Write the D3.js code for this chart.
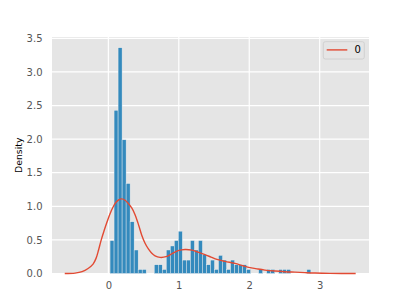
<!DOCTYPE html>
<html>
<head>
<meta charset="utf-8">
<script src="https://cdn.jsdelivr.net/npm/d3@7"></script>
<style>
  html, body { margin: 0; padding: 0; background: #fff; }
  svg { display: block; font-family: "DejaVu Sans", sans-serif; }
</style>
</head>
<body>
<svg id="chart" width="411" height="308"></svg>
<script>
// ---- data ----
const binStart = 0.024;
const binWidth = 0.05702;
const binDensity = [
  0.49, 2.43, 3.36, 1.99, 1.34, 0.77, 0.35, 0.06, 0.06, 0,
  0, 0.13, 0.13, 0.06, 0.35, 0.41, 0.49, 0.63, 0.20, 0.20,
  0.49, 0.35, 0.49, 0.28, 0.13, 0.20, 0.06, 0.27, 0.20, 0.06,
  0.20, 0.13, 0.13, 0.13, 0.06, 0, 0, 0.06, 0, 0.06,
  0.06, 0, 0.06, 0.06, 0.06, 0, 0, 0, 0, 0.06
];
const kdeX = [-0.619, -0.473, -0.373, -0.288, -0.217, -0.175, -0.139, -0.104, -0.061, -0.018,
  0.024, 0.067, 0.109, 0.152, 0.190, 0.237, 0.280, 0.332, 0.379, 0.421,
  0.474, 0.521, 0.568, 0.613, 0.663, 0.734, 0.819, 0.904, 0.990, 1.088,
  1.188, 1.273, 1.372, 1.457, 1.542, 1.656, 1.798, 1.911, 2.011, 2.124,
  2.222, 2.365, 2.507, 2.649, 2.791, 2.933, 3.146, 3.511];
const kdeY = [0, 0.006, 0.028, 0.075, 0.14, 0.225, 0.35, 0.49, 0.635, 0.77,
  0.89, 0.99, 1.06, 1.10, 1.11, 1.09, 1.045, 0.975, 0.875, 0.75,
  0.57, 0.45, 0.365, 0.305, 0.262, 0.24, 0.25, 0.295, 0.34, 0.358,
  0.348, 0.318, 0.28, 0.245, 0.21, 0.18, 0.15, 0.115, 0.087, 0.066,
  0.051, 0.037, 0.027, 0.02, 0.013, 0.007, 0.002, 0];
const xTicks = [0, 1, 2, 3];
const yTicks = [0, 0.5, 1.0, 1.5, 2.0, 2.5, 3.0, 3.5];
const legendLabel = "0";
const yLabel = "Density";

// ---- layout ----
const L = 52, R = 369, T = 37, B = 273.5;
const svg = d3.select("#chart");
const x = d3.scaleLinear().domain([-0.8, 3.7]).range([L, R]);
const y = d3.scaleLinear().domain([0, 3.52]).range([B, T]);

svg.append("rect").attr("x", L).attr("y", T).attr("width", R - L).attr("height", B - T)
  .attr("fill", "#E5E5E5");

// grid
const g = svg.append("g");
g.selectAll(".gx").data(xTicks).enter().append("line")
  .attr("x1", d => x(d)).attr("x2", d => x(d)).attr("y1", T).attr("y2", B)
  .attr("stroke", "#fff").attr("stroke-width", 1.2);
g.selectAll(".gy").data(yTicks).enter().append("line")
  .attr("y1", d => y(d)).attr("y2", d => y(d)).attr("x1", L).attr("x2", R)
  .attr("stroke", "#fff").attr("stroke-width", 1.2);

// axes (labels only)
const xAxis = d3.axisBottom(x).tickValues(xTicks).tickFormat(d3.format("d")).tickSize(0).tickPadding(8);
const yAxis = d3.axisLeft(y).tickValues(yTicks).tickFormat(d3.format(".1f")).tickSize(0).tickPadding(9.5);
const ax = svg.append("g").attr("transform", `translate(0,${B})`).call(xAxis);
const ay = svg.append("g").attr("transform", `translate(${L},0)`).call(yAxis);
[ax, ay].forEach(a => {
  a.select(".domain").remove();
  a.selectAll("text").attr("fill", "#555555").attr("font-size", 10)
    .attr("font-family", "DejaVu Sans");
});

// bars
const bins = binDensity.map((d, i) => ({x0: binStart + i * binWidth, x1: binStart + (i + 1) * binWidth, v: d}))
  .filter(b => b.v > 0);
svg.append("g").selectAll("rect").data(bins).enter().append("rect")
  .attr("x", d => x(d.x0)).attr("width", d => x(d.x1) - x(d.x0))
  .attr("y", d => y(d.v)).attr("height", d => y(0) - y(d.v))
  .attr("fill", "#348ABD").attr("stroke", "#EEEEEE").attr("stroke-width", 0.45);

// kde line
const pts = kdeX.map((d, i) => [d, kdeY[i]]);
svg.append("path").datum(pts)
  .attr("d", d3.line().x(d => x(d[0])).y(d => y(d[1])).curve(d3.curveCatmullRom.alpha(0.5)))
  .attr("fill", "none").attr("stroke", "#E24A33").attr("stroke-width", 1.4);

// y label
svg.append("text").attr("transform", `translate(21.8,${(T + B) / 2}) rotate(-90)`)
  .attr("text-anchor", "middle").attr("font-size", 9.3).attr("fill", "#000")
  .text(yLabel);

// legend
const lg = svg.append("g");
lg.append("rect").attr("x", 323.3).attr("y", 41.7).attr("width", 41).attr("height", 17.3)
  .attr("rx", 2).attr("fill", "#E5E5E5").attr("stroke", "#CCCCCC").attr("stroke-width", 0.8);
lg.append("line").attr("x1", 326.7).attr("x2", 347.3).attr("y1", 49.9).attr("y2", 49.9)
  .attr("stroke", "#E24A33").attr("stroke-width", 1.4);
lg.append("text").attr("x", 357.7).attr("y", 53.4).attr("text-anchor", "middle")
  .attr("font-size", 10).attr("fill", "#000").text(legendLabel);
</script>
</body>
</html>
